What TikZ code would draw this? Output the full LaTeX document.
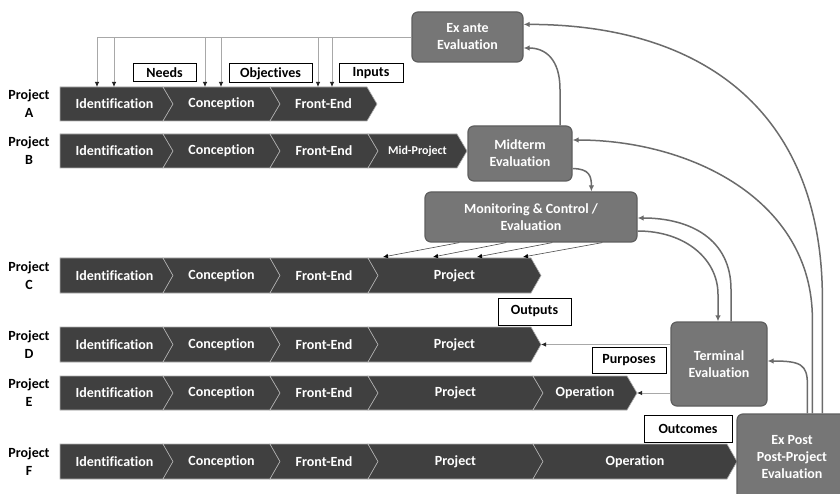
\documentclass[tikz,border=0pt]{standalone}
\usepackage{fontspec}
\setmainfont{Carlito}[Ligatures=NoCommon]
\usetikzlibrary{arrows.meta,calc}
\definecolor{bar}{HTML}{404040}
\definecolor{evalfill}{HTML}{767676}
\definecolor{evaldraw}{HTML}{5E5E5E}
\definecolor{curvec}{HTML}{6B6B6B}
\definecolor{thinc}{HTML}{A8A8A8}
\definecolor{sepc}{HTML}{B0B0B0}
% flat-left chevron: [node opts]{name}{x1}{x2}{ytop}{ybot}{text}
\newcommand\chevF[7][]{%
  \filldraw[chev] (#3,#5) -- (#4,#5) -- ({#4+10},{(#5+#6)/2}) -- (#4,#6) -- (#3,#6) -- cycle;
  \node[bartext,#1] (#2) at ({(#3+#4)/2+3},{(#5+#6)/2}) {#7};}
% notched-left chevron
\newcommand\chevN[7][]{%
  \filldraw[chev] (#3,#5) -- (#4,#5) -- ({#4+10},{(#5+#6)/2}) -- (#4,#6) -- (#3,#6) -- ({#3+10},{(#5+#6)/2}) -- cycle;
  \node[bartext,#1] (#2) at ({(#3+#4+10)/2},{(#5+#6)/2}) {#7};}
\begin{document}
\begin{tikzpicture}[x=1pt,y=-1pt,
  chev/.style={fill=bar, draw=sepc, line width=0.6pt, line join=miter},
  bartext/.style={text=white, font=\bfseries\fontsize{14}{16}\selectfont, inner sep=0pt},
  smalltext/.style={font=\bfseries\fontsize{12}{14}\selectfont},
  plabel/.style={font=\bfseries\fontsize{14}{18}\selectfont, align=center, inner sep=0pt},
  evalbox/.style={fill=evalfill, draw=evaldraw, line width=1.2pt, rounded corners=6pt, text=white,
    font=\bfseries\fontsize{14}{17}\selectfont, align=center, inner sep=0pt},
  lbox/.style={draw=black, line width=1pt, fill=white, font=\bfseries\fontsize{14}{16}\selectfont, inner sep=0pt},
  feed/.style={draw=thinc, line width=0.8pt, -{Latex[length=5pt,width=4.5pt,color=black!85]}},
  mon/.style={draw=black!70, line width=0.6pt, -{Latex[length=5pt,width=4.5pt,color=black]}},
  curve/.style={draw=curvec, line width=1.5pt, -{Latex[length=6pt,width=5.5pt]}}
]
\clip (0,0) rectangle (840,494);
\fill[white] (0,0) rectangle (840,494);

% ---------- rows ----------
\node[plabel] (labA) at (29,104) {Project\\A};
\chevF{aI}{60}{163}{87}{121}{Identification}
\chevN{aC}{163}{270}{87}{121}{Conception}
\chevN{aF}{270}{367}{87}{121}{Front-End}

\node[plabel] (labB) at (29,151) {Project\\B};
\chevF{bI}{60}{163}{134}{168}{Identification}
\chevN{bC}{163}{270}{134}{168}{Conception}
\chevN{bF}{270}{368}{134}{168}{Front-End}
\chevN[smalltext]{bM}{368}{457}{134}{168}{Mid-Project}

\node[plabel] (labC) at (29,275.5) {Project\\C};
\chevF{cI}{60}{163}{258}{293}{Identification}
\chevN{cC}{163}{270}{258}{293}{Conception}
\chevN{cF}{270}{368}{258}{293}{Front-End}
\chevN{cP}{368}{531}{258}{293}{Project}

\node[plabel] (labD) at (29,344.5) {Project\\D};
\chevF{dI}{60}{163}{327}{362}{Identification}
\chevN{dC}{163}{270}{327}{362}{Conception}
\chevN{dF}{270}{368}{327}{362}{Front-End}
\chevN{dP}{368}{531}{327}{362}{Project}
\coordinate (tipD) at (541,344.5);

\node[plabel] (labE) at (29,393) {Project\\E};
\chevF{eI}{60}{163}{376}{410}{Identification}
\chevN{eC}{163}{270}{376}{410}{Conception}
\chevN{eF}{270}{368}{376}{410}{Front-End}
\chevN{eP}{368}{533}{376}{410}{Project}
\chevN{eO}{533}{627}{376}{410}{Operation}
\coordinate (tipE) at (637,393);

\node[plabel] (labF) at (29,461.5) {Project\\F};
\chevF{fI}{60}{163}{444}{479}{Identification}
\chevN{fC}{163}{270}{444}{479}{Conception}
\chevN{fF}{270}{368}{444}{479}{Front-End}
\chevN{fP}{368}{533}{444}{479}{Project}
\chevN{fO}{533}{727}{444}{479}{Operation}

% ---------- evaluation boxes ----------
\node[evalbox, minimum width=111pt, minimum height=50pt] (exante) at (467.5,37) {Ex ante\\Evaluation};
\node[evalbox, minimum width=104pt, minimum height=55pt] (midterm) at (520,153.5) {Midterm\\Evaluation};
\node[evalbox, minimum width=212pt, minimum height=50pt] (monitor) at (531,217) {Monitoring \& Control /\\Evaluation};
\node[evalbox, minimum width=96pt, minimum height=84pt] (terminal) at (719,364) {Terminal\\Evaluation};
\node[evalbox, minimum width=110pt, minimum height=86pt] (expost) at (792,457) {Ex Post\\Post-Project\\Evaluation};

% ---------- label boxes ----------
\node[lbox, minimum width=63pt, minimum height=18pt] (needs) at (164.5,73) {Needs};
\node[lbox, minimum width=83pt, minimum height=19pt] (objectives) at (270.5,73.5) {Objectives};
\node[lbox, minimum width=64pt, minimum height=19pt] (inputs) at (371,73.5) {Inputs};
\node[lbox, minimum width=73pt, minimum height=27pt] (outputs) at (534.5,311.5) {Outputs};
\node[lbox, minimum width=74pt, minimum height=26pt] (purposes) at (629,360) {Purposes};
\node[lbox, minimum width=88pt, minimum height=27pt] (outcomes) at (688,428.5) {Outcomes};

% ---------- ex ante feeds ----------
\foreach \n/\x in {a1/97,a2/114,a3/205,a4/221,a5/318,a6/332}{
  \coordinate (\n) at (\x,87);
  \draw[feed] (exante.west) -| (\n);
}

% ---------- monitoring to project C ----------
\foreach \i/\s/\e in {1/35/383,2/82/433,3/128/477,4/178/523}{
  \coordinate (ms\i) at ($(monitor.south west)+(\s,0)$);
  \coordinate (me\i) at (\e,257);
  \draw[mon] (ms\i) -- (me\i);
}

% ---------- terminal to D and E ----------
\draw[feed] (terminal.west |- tipD) -- (tipD);
\draw[feed] (terminal.west |- tipE) -- (tipE);

% ---------- curved connectors ----------
\coordinate (ep1) at ($(expost.north west)+(86,0)$);
\coordinate (ep2) at ($(expost.north west)+(76,0)$);
\coordinate (ep3) at ($(expost.north west)+(71,0)$);
\draw[curve] (ep1) -- ++(0,-114) .. controls +(0,-190) and ($(exante.north east)+(177,13)$) .. ($(exante.north east)+(0,13)$);
\draw[curve] (ep2) -- ++(0,-94) .. controls +(0,-120) and ($(midterm.east)+(117,-13.5)$) .. ($(midterm.east)+(0,-13.5)$);
\draw[curve] (ep3) -- ++(0,-29) .. controls +(0,-20) and ($(terminal.east)+(33,-3)$) .. ($(terminal.east)+(0,-3)$);

\draw[curve] ($(midterm.north)+(40,0)$) -- ++(0,-36) .. controls +(0,-30) and ($(exante.east)+(22,11)$) .. ($(exante.east)+(0,11)$);
\draw[curve] ($(midterm.south east)+(0,-13)$) .. controls +(17,0) and +(0,-15) .. ($(monitor.north west)+(167,0)$);

\draw[curve] ($(terminal.north)+(12,0)$) -- ++(0,-32) .. controls +(0,-50) and ($(monitor.east)+(53,1)$) .. ($(monitor.east)+(0,1)$);
\draw[curve] ($(monitor.east)+(0,14)$) .. controls +(48,0) and +(0,-35) .. ($(terminal.north)+(-1,-27)$) -- (terminal.north -| 718,0);
\end{tikzpicture}
\end{document}
